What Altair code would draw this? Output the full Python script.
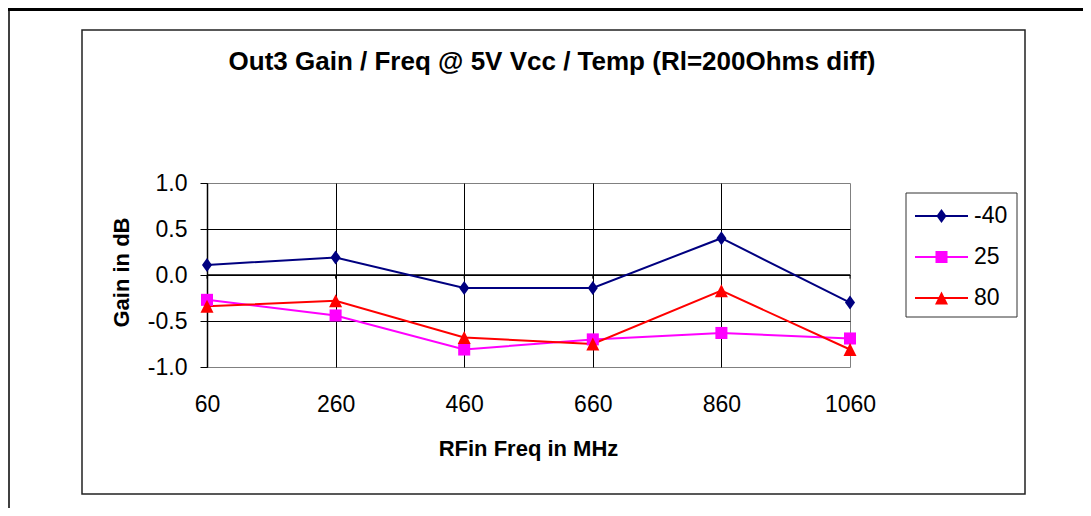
import altair as alt
import pandas as pd

# ---------------- data ----------------
freqs = [60, 260, 460, 660, 860, 1060]
series_names = ["-40", "25", "80"]
gain_m40 = [0.11, 0.19, -0.14, -0.14, 0.40, -0.30]
gain_25 = [-0.27, -0.44, -0.81, -0.70, -0.63, -0.69]
gain_80 = [-0.34, -0.28, -0.68, -0.75, -0.17, -0.81]
series_colors = ["#000080", "#FF00FF", "#FF0000"]
y_ticks = [-1.0, -0.5, 0.0, 0.5, 1.0]
title_text = "Out3 Gain / Freq @ 5V Vcc / Temp (Rl=200Ohms diff)"
x_title = "RFin Freq in MHz"
y_title = "Gain in dB"

DIAMOND = "M0,-1L0.72,0L0,1L-0.72,0Z"
SQUARE = "M-0.86,-0.86L0.86,-0.86L0.86,0.86L-0.86,0.86Z"
TRIANGLE = "M0,-0.93L0.93,0.93L-0.93,0.93Z"
series_shapes = [DIAMOND, SQUARE, TRIANGLE]

rows = []
for name, vals in zip(series_names, [gain_m40, gain_25, gain_80]):
    for f, g in zip(freqs, vals):
        rows.append({"series": name, "freq": f, "gain": g})
df = pd.DataFrame(rows)
one = pd.DataFrame({"k": [0]})

FONT = "Liberation Sans"
W, H = 643, 184

color = alt.Color("series:N", scale=alt.Scale(domain=series_names, range=series_colors), legend=None)
shape = alt.Shape("series:N", scale=alt.Scale(domain=series_names, range=series_shapes), legend=None)

x_enc = alt.X(
    "freq:Q",
    scale=alt.Scale(domain=[60, 1060], nice=False, zero=False),
    axis=alt.Axis(
        values=freqs, format="d", grid=True, gridColor="black", gridWidth=1,
        gridOpacity={"condition": {"test": "datum.value >= 1060", "value": 0}, "value": 1},
        domain=False, ticks=False, tickSize=0, labelPadding=26, labelFlush=False,
        labelOverlap=False, labelFontSize=23, labelColor="black", labelFont=FONT,
        title=x_title, titleFontSize=22, titleFontWeight="bold", titleColor="black",
        titleFont=FONT, titleX=321, titleY=88, titleBaseline="alphabetic", titleAlign="center",
    ),
)
y_enc = alt.Y(
    "gain:Q",
    scale=alt.Scale(domain=[-1, 1], nice=False, zero=False),
    axis=alt.Axis(
        values=y_ticks,
        labelExpr="datum.value < 0 ? '-' + format(-datum.value, '.1f') : format(datum.value, '.1f')",
        grid=True, gridColor="black", gridWidth=1,
        gridOpacity={"condition": {"test": "abs(datum.value) >= 1", "value": 0}, "value": 1},
        domain=True, domainColor="black", domainWidth=1.5,
        ticks=True, tickSize=7, tickColor="black", tickWidth=1,
        labelPadding=13, labelOverlap=False, labelFontSize=23, labelColor="black", labelFont=FONT,
        title=y_title, titleFontSize=22, titleFontWeight="bold", titleColor="black", titleFont=FONT,
        titleAngle=270, titleX=-79, titleY=89, titleBaseline="alphabetic", titleAlign="center",
    ),
)

base = alt.Chart(df)
lines = base.mark_line(strokeWidth=2).encode(x=x_enc, y=y_enc, color=color)
points = base.mark_point(filled=True, size=196, opacity=1, strokeWidth=0).encode(
    x=x_enc, y=y_enc, color=color, shape=shape
)
zero_line = alt.Chart(one).mark_rule(color="black", strokeWidth=1.5).encode(y=alt.datum(0))
zero_ticks = alt.Chart(pd.DataFrame({"freq": freqs})).mark_rule(color="black", strokeWidth=1).encode(
    x=alt.X("freq:Q"), y=alt.datum(0), y2=alt.datum(-0.04)
)
plot = alt.layer(zero_line, zero_ticks, lines, points)

# ---------------- legend ----------------
leg_df = pd.DataFrame({"series": series_names})
ly = alt.Y("series:N", scale=alt.Scale(type="point", domain=series_names, range=[33, 115], padding=0), axis=None)
leg_box = alt.Chart(one).mark_rect(fill="white", stroke="#333333", strokeWidth=1).encode(
    x=alt.value(699), x2=alt.value(810), y=alt.value(10), y2=alt.value(134)
)
leg_lines = alt.Chart(leg_df).mark_rule(strokeWidth=2).encode(
    x=alt.value(708), x2=alt.value(761), y=ly, color=color
)
leg_points = alt.Chart(leg_df).mark_point(filled=True, size=196, opacity=1, strokeWidth=0).encode(
    x=alt.value(734.5), y=ly, color=color, shape=shape
)
leg_text = alt.Chart(leg_df).mark_text(align="left", baseline="middle", fontSize=23, color="black", font=FONT).encode(
    x=alt.value(767), y=ly, text="series:N"
)
legend = alt.layer(leg_box, leg_lines, leg_points, leg_text)

# ---------------- frames & title ----------------
inner_box = alt.Chart(one).mark_rect(fillOpacity=0, stroke="#222222", strokeWidth=1.5).encode(
    x=alt.value(-125), x2=alt.value(818), y=alt.value(-153), y2=alt.value(311)
)
top_line = alt.Chart(one).mark_rule(color="black", strokeWidth=3).encode(
    x=alt.value(-199), x2=alt.value(876), y=alt.value(-173.5)
)
left_line = alt.Chart(one).mark_rule(color="black", strokeWidth=1.5).encode(
    x=alt.value(-198), y=alt.value(-175), y2=alt.value(325)
)
title = alt.Chart(pd.DataFrame({"t": [title_text]})).mark_text(
    fontSize=26, fontWeight="bold", align="center", baseline="alphabetic", color="black", font=FONT
).encode(text="t:N", x=alt.value(345), y=alt.value(-113))

chart = (
    alt.layer(inner_box, top_line, left_line, title, plot, legend)
    .resolve_scale(y="independent")
    .properties(
        width=W, height=H,
        padding={"left": 199, "top": 175, "right": 233, "bottom": 141},
        autosize=alt.AutoSizeParams(type="none"),
        background="white",
    )
    .configure(font=FONT)
    .configure_view(stroke="#808080", strokeWidth=1)
)

chart.save("out.html", embed_options={"renderer": "svg", "actions": False})
